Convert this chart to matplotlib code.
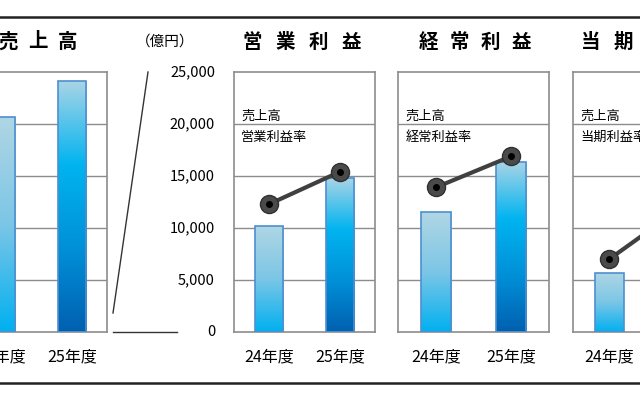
import matplotlib
matplotlib.use("Agg")
import matplotlib.pyplot as plt
import numpy as np
from matplotlib.colors import LinearSegmentedColormap
from matplotlib.patches import Rectangle
from matplotlib.lines import Line2D

plt.rcParams['font.family'] = ['Noto Sans CJK JP', 'DejaVu Sans']

years = ["24年度", "25年度"]
titles = ["売上高", "営業利益", "経常利益", "当期純利益"]
rate_labels = [None, "営業利益率", "経常利益率", "当期利益率"]
sales_rel = [82.7, 96.5]           # first panel (scale 0-100, unlabeled)
op_profit = [10200, 14800]
op_rate = [12300, 15400]
ord_profit = [11500, 16300]
ord_rate = [13900, 16900]
net_profit = [5700, 9800]
net_rate = [7000, 12000]
yticks = [0, 5000, 10000, 15000, 20000, 25000]
ytick_labels = ["0", "5,000", "10,000", "15,000", "20,000", "25,000"]

W, H = 640, 400
fig = plt.figure(figsize=(6.4, 4.0), dpi=100)

def px_axes(x0, x1, ytop, ybot):
    return fig.add_axes([x0 / W, (H - ybot) / H, (x1 - x0) / W, (ybot - ytop) / H])

cm24 = LinearSegmentedColormap.from_list("c24", ["#00b0f0", "#7cc6e6", "#b0d6e4"])
cm25 = LinearSegmentedColormap.from_list("c25", ["#0060b0", "#0090d8", "#00b4f0", "#a8d4e6"])

def panel(ax, vals, rates, ymax, rate_label):
    ax.set_xlim(-0.5, 1.5)
    ax.set_ylim(0, ymax)
    for y in np.linspace(0, ymax, 6)[1:-1]:
        ax.axhline(y, color="#8c8c8c", lw=1, zorder=0)
    for s in ax.spines.values():
        s.set_color("#8c8c8c")
        s.set_linewidth(1.2)
    ax.set_xticks([])
    ax.set_yticks([])
    grad = np.linspace(0, 1, 256).reshape(-1, 1)
    for i, v in enumerate(vals):
        cm = cm24 if i == 0 else cm25
        rect = Rectangle((i - 0.2, 0), 0.4, v, facecolor="none", edgecolor="#4f8fcf", lw=1.2, zorder=3)
        ax.add_patch(rect)
        im = ax.imshow(grad, cmap=cm, extent=(i - 0.2, i + 0.2, 0, v), aspect="auto",
                       origin="lower", zorder=2)
        im.set_clip_path(rect)
        ax.text(i, -ymax * 0.095, years[i], ha="center", va="center", fontsize=11.5,
                clip_on=False)
    ax.set_xlim(-0.5, 1.5)
    ax.set_ylim(0, ymax)
    if rates is not None:
        ax.plot([0, 1], rates, color="#404040", lw=3, zorder=4, clip_on=False)
        ax.plot([0, 1], rates, "o", ms=13, color="#4a4a4a", mec="#303030", zorder=5, clip_on=False)
        ax.plot([0, 1], rates, "o", ms=4, color="black", zorder=6, clip_on=False)
        ax.text(-0.4, ymax * 0.83, "売上高", fontsize=9.5, va="center")
        ax.text(-0.4, ymax * 0.75, rate_label, fontsize=9.5, va="center")

ax1 = px_axes(-34, 107, 72, 332)
panel(ax1, sales_rel, None, 100, None)
ax2 = px_axes(234, 375, 72, 332)
panel(ax2, op_profit, op_rate, 25000, rate_labels[1])
ax3 = px_axes(398, 549, 72, 332)
panel(ax3, ord_profit, ord_rate, 25000, rate_labels[2])
ax4 = px_axes(573, 718, 72, 332)
panel(ax4, net_profit, net_rate, 25000, rate_labels[3])

# titles, letter-spaced
for t, x0, step in zip(titles, [8, 252, 428, 591], [30, 33, 31, 32]):
    for k, ch in enumerate(t):
        fig.text((x0 + k * step) / W, (H - 42) / H, ch, ha="center", va="center",
                 fontsize=14, fontweight="bold")

# y-axis scale labels
fig.text(165 / W, (H - 42) / H, "（億円）", ha="center", va="center", fontsize=10.5)
for v, lab in zip(yticks, ytick_labels):
    y = 332 - v / 25000 * 260
    fig.text(215 / W, (H - y) / H, lab, ha="right", va="center", fontsize=10.5)

fig.add_artist(Line2D([148 / W, 113 / W], [(H - 72) / H, (H - 313) / H], color="#333333", lw=1))
fig.add_artist(Line2D([113 / W, 177 / W], [(H - 332) / H, (H - 332) / H], color="#333333", lw=1))
# outer frame
for y in [17, 383]:
    fig.add_artist(Line2D([0, 1], [(H - y) / H, (H - y) / H], color="#222222", lw=1.8))

fig.savefig("out.png", dpi=100)
